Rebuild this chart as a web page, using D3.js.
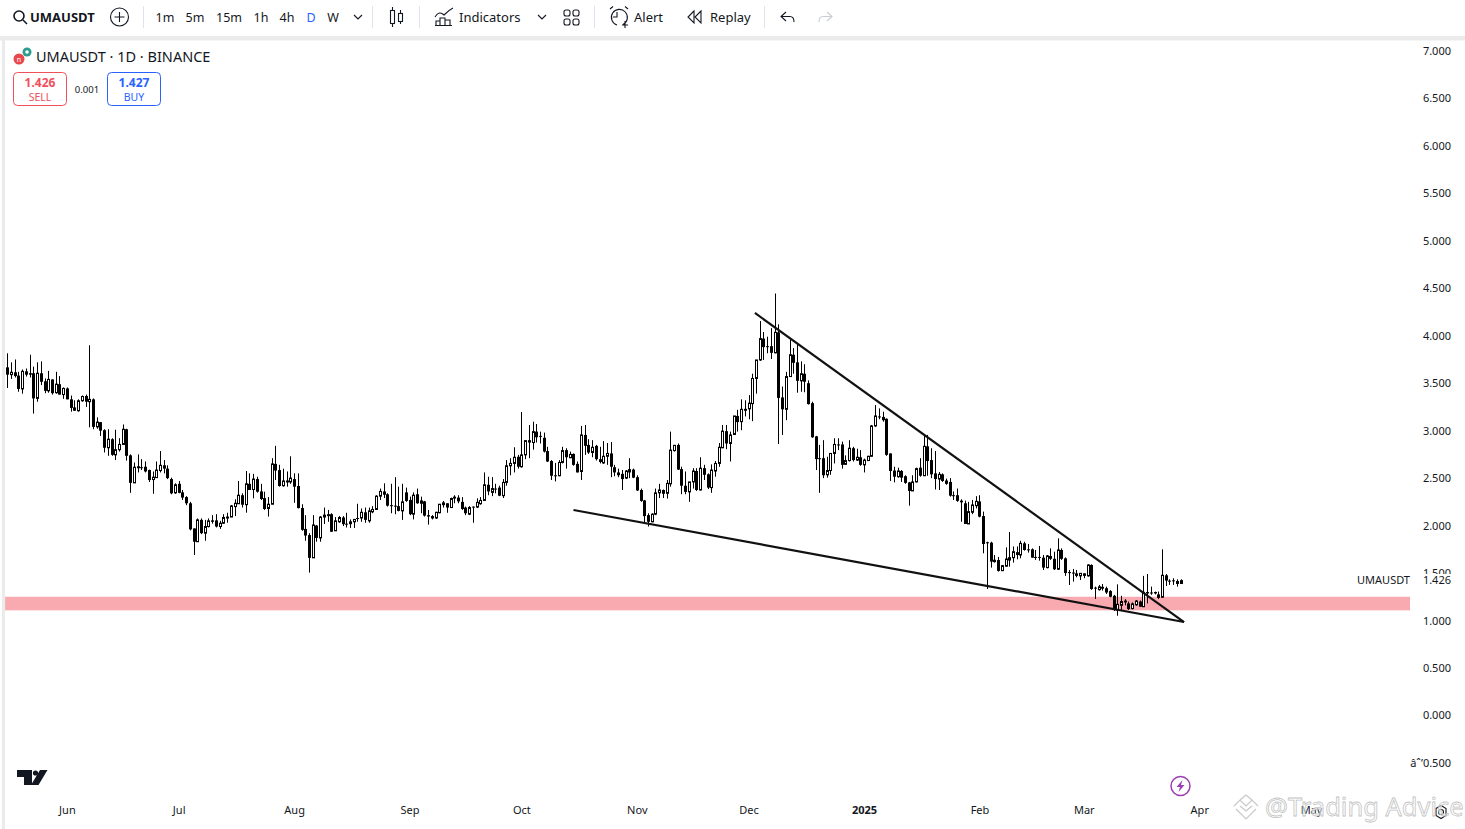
<!DOCTYPE html>
<html>
<head>
<title>UMAUSDT</title>
<script src="https://d3js.org/d3.v7.min.js"></script>
<style>
    html, body { margin: 0; padding: 0; background: #fff; overflow: hidden; }
    svg { display: block; }
    svg text { font-family: "Noto Sans", sans-serif; fill: #131722; }
</style>
</head>
<body>
<svg id="chart" width="1465" height="829"></svg>
<script>
// values, one entry per daily candle from 2024-05-16
const opens = [
  3.667,3.59,3.615,3.58,3.44,3.625,3.605,3.605,3.34,3.605,
  3.52,3.42,3.54,3.40,3.49,3.38,3.445,3.33,3.245,3.21,
  3.315,3.365,3.305,3.33,3.04,3.09,3.005,2.82,2.91,2.745,
  2.80,2.855,3.015,2.74,2.45,2.61,2.615,2.62,2.585,2.485,
  2.505,2.58,2.635,2.60,2.49,2.345,2.44,2.35,2.30,2.235,
  1.97,1.83,2.06,1.92,1.99,2.055,2.055,1.99,2.025,2.085,
  2.09,2.20,2.23,2.32,2.22,2.44,2.38,2.49,2.36,2.29,
  2.18,2.225,2.65,2.585,2.42,2.46,2.46,2.49,2.417,2.185,
  1.965,1.90,1.66,2.00,1.87,2.09,2.11,2.12,1.945,2.04,
  2.085,2.02,2.02,2.04,2.08,2.08,2.14,2.05,2.145,2.17,
  2.31,2.36,2.33,2.215,2.21,2.205,2.155,2.35,2.27,2.12,
  2.33,2.235,2.255,2.11,2.10,2.08,2.135,2.22,2.235,2.19,
  2.295,2.295,2.25,2.19,2.12,2.20,2.195,2.23,2.265,2.43,
  2.35,2.39,2.40,2.315,2.455,2.63,2.655,2.725,2.62,2.745,
  2.90,2.875,2.99,2.945,2.925,2.785,2.68,2.53,2.525,2.665,
  2.795,2.715,2.755,2.65,2.57,2.955,2.85,2.77,2.84,2.70,
  2.66,2.73,2.76,2.615,2.56,2.545,2.50,2.565,2.59,2.51,
  2.375,2.265,2.11,2.04,2.12,2.345,2.375,2.34,
  2.44,2.79,2.85,2.595,2.42,2.355,2.46,2.575,2.375,2.605,2.54,2.40,
  2.575,2.655,2.82,2.995,2.865,2.96,3.155,3.095,3.225,3.23,
  3.285,3.55,3.745,3.97,3.89,3.89,3.82,4.036,3.35,3.225,
  3.57,3.80,3.72,3.525,3.60,3.50,3.29,2.94,2.71,2.71,
  2.535,2.58,2.76,2.855,2.855,2.645,2.685,2.815,2.69,2.72,
  2.64,2.685,2.73,3.05,3.15,3.145,3.125,2.76,2.58,2.515,
  2.575,2.52,2.455,2.365,2.46,2.61,2.525,2.835,2.69,2.55,
  2.49,2.54,2.475,2.46,2.32,2.32,
  2.263,2.235,2.017,2.14,2.21,2.255,2.10,1.824,1.82,1.62,
  1.637,1.525,1.572,1.637,1.662,1.72,1.69,1.813,1.75,1.75,
  1.67,1.67,1.662,1.557,1.68,1.65,1.54,1.743,1.655,1.51,
  1.505,1.497,1.47,1.497,1.47,1.585,1.346,1.325,1.355,1.34,
  1.31,1.26,1.11,1.16,1.21,1.18,1.125,1.165,1.20,1.145,
  1.30,1.295,1.30,1.275,1.245,1.476,1.42,1.423,1.416,1.39
];
const highs = [
  3.815,3.72,3.75,3.62,3.645,3.655,3.80,3.675,3.72,3.73,
  3.55,3.63,3.54,3.62,3.575,3.455,3.455,3.37,3.32,3.33,
  3.37,3.38,3.90,3.34,3.14,3.09,3.015,3.015,2.92,3.01,
  2.92,3.065,3.02,2.75,2.665,2.75,2.70,2.675,2.59,2.57,
  2.675,2.785,2.69,2.635,2.505,2.445,2.47,2.375,2.31,2.25,
  1.97,2.075,2.075,2.06,2.075,2.11,2.12,2.05,2.12,2.135,
  2.217,2.277,2.47,2.34,2.575,2.55,2.545,2.515,2.44,2.357,
  2.30,2.71,2.84,2.64,2.60,2.57,2.73,2.55,2.55,2.225,
  2.11,1.92,2.11,2.006,2.10,2.19,2.165,2.13,2.09,2.10,
  2.10,2.135,2.065,2.065,2.23,2.18,2.19,2.19,2.205,2.32,
  2.39,2.445,2.34,2.44,2.51,2.41,2.44,2.40,2.305,2.35,
  2.39,2.305,2.26,2.165,2.11,2.145,2.225,2.26,2.235,2.295,
  2.32,2.32,2.30,2.20,2.205,2.20,2.287,2.30,2.56,2.515,
  2.51,2.44,2.42,2.49,2.69,2.71,2.825,2.745,3.197,2.90,
  3.06,3.095,3.07,2.99,2.98,2.83,2.69,2.66,2.69,2.83,
  2.815,2.78,2.76,2.675,3.05,3.06,2.91,2.90,2.85,2.83,
  2.89,2.87,2.88,2.64,2.60,2.585,2.585,2.71,2.60,2.53,
  2.39,2.27,2.13,2.13,2.39,2.44,2.38,2.48,
  2.99,2.85,2.865,2.62,2.57,2.46,2.605,2.605,2.72,2.64,2.55,2.645,
  2.68,2.87,3.06,3.06,2.99,3.155,3.22,3.33,3.32,3.375,
  3.60,3.745,4.155,4.04,3.99,4.08,4.445,4.12,3.465,3.62,
  3.97,3.87,3.92,3.73,3.70,3.53,3.305,2.945,2.85,2.90,
  2.725,2.76,2.92,2.92,2.885,2.74,2.90,2.83,2.81,2.795,
  2.705,2.735,3.06,3.27,3.235,3.20,3.13,2.76,2.62,2.61,
  2.585,2.53,2.46,2.53,2.61,2.71,2.955,2.955,2.815,2.785,
  2.565,2.55,2.495,2.50,2.36,2.39,
  2.277,2.263,2.25,2.27,2.31,2.32,2.147,1.83,1.83,1.69,
  1.67,1.585,1.77,1.933,1.78,1.78,1.84,1.83,1.806,1.76,
  1.743,1.785,1.69,1.69,1.76,1.725,1.866,1.76,1.665,1.532,
  1.543,1.532,1.50,1.497,1.592,1.592,1.357,1.375,1.385,1.357,
  1.32,1.27,1.381,1.26,1.225,1.20,1.19,1.215,1.21,1.47,
  1.49,1.357,1.305,1.305,1.75,1.49,1.434,1.445,1.434,1.434
];
const lows = [
  3.45,3.545,3.56,3.41,3.39,3.57,3.56,3.18,3.305,3.48,
  3.395,3.40,3.38,3.39,3.38,3.335,3.33,3.20,3.21,3.20,
  3.305,3.25,3.035,3.015,3.02,2.945,2.77,2.735,2.735,2.69,
  2.78,2.85,2.685,2.345,2.45,2.56,2.585,2.56,2.46,2.335,
  2.505,2.56,2.55,2.49,2.33,2.335,2.34,2.27,2.215,1.95,
  1.69,1.83,1.91,1.84,1.98,2.02,1.98,1.965,2.017,2.03,
  2.09,2.10,2.23,2.19,2.136,2.375,2.287,2.347,2.27,2.165,
  2.095,2.225,2.48,2.41,2.41,2.41,2.44,2.24,2.18,1.945,
  1.84,1.505,1.66,1.83,1.83,2.017,2.04,1.935,1.945,2.03,
  1.995,1.98,1.975,1.975,2.04,2.04,2.03,2.03,2.13,2.165,
  2.27,2.29,2.20,2.13,2.12,2.15,2.06,2.25,2.11,2.065,
  2.23,2.13,2.095,2.01,2.065,2.07,2.13,2.19,2.135,2.19,
  2.235,2.235,2.165,2.11,2.11,2.03,2.185,2.22,2.26,2.32,
  2.31,2.34,2.31,2.29,2.42,2.53,2.56,2.60,2.61,2.70,
  2.71,2.80,2.875,2.865,2.77,2.67,2.48,2.465,2.52,2.655,
  2.60,2.71,2.63,2.56,2.48,2.745,2.755,2.72,2.685,2.655,
  2.65,2.64,2.51,2.52,2.51,2.375,2.49,2.50,2.50,2.365,
  2.25,2.02,1.99,2.035,2.11,2.29,2.29,2.285,
  2.41,2.78,2.585,2.33,2.33,2.25,2.39,2.365,2.37,2.48,2.385,2.345,
  2.515,2.62,2.815,2.805,2.675,2.955,2.99,3.005,3.15,3.12,
  3.10,3.39,3.735,3.745,3.815,3.755,3.815,2.86,2.955,3.11,
  3.57,3.60,3.40,3.41,3.405,3.275,2.925,2.585,2.345,2.50,
  2.505,2.535,2.655,2.795,2.60,2.64,2.675,2.675,2.68,2.63,
  2.56,2.68,2.725,3.04,3.12,3.095,2.735,2.47,2.455,2.505,
  2.46,2.44,2.21,2.365,2.455,2.515,2.525,2.525,2.50,2.38,
  2.375,2.46,2.43,2.305,2.27,2.25,
  2.04,2.017,2.017,2.12,2.18,2.087,1.708,1.332,1.557,1.61,
  1.515,1.522,1.567,1.567,1.61,1.645,1.655,1.736,1.715,1.662,
  1.638,1.63,1.532,1.55,1.638,1.532,1.532,1.638,1.47,1.374,
  1.41,1.455,1.427,1.445,1.462,1.322,1.227,1.315,1.315,1.28,
  1.245,1.10,1.05,1.11,1.16,1.11,1.118,1.156,1.145,1.145,
  1.18,1.27,1.275,1.227,1.237,1.364,1.375,1.375,1.357,1.385
];
const closes = [
  3.59,3.615,3.575,3.44,3.625,3.59,3.59,3.34,3.605,3.515,
  3.42,3.54,3.395,3.49,3.38,3.445,3.33,3.24,3.21,3.315,
  3.36,3.305,3.33,3.04,3.09,3.00,2.82,2.91,2.745,2.80,
  2.855,3.015,2.735,2.45,2.615,2.62,2.61,2.57,2.48,2.51,
  2.585,2.635,2.60,2.50,2.34,2.43,2.345,2.295,2.235,1.96,
  1.83,2.06,1.92,1.99,2.05,2.04,1.99,2.025,2.085,2.09,
  2.207,2.235,2.32,2.22,2.44,2.375,2.49,2.357,2.28,2.175,
  2.225,2.65,2.58,2.417,2.47,2.47,2.50,2.41,2.185,1.955,
  1.895,1.66,2.006,1.87,2.09,2.11,2.115,1.935,2.05,2.085,
  2.015,2.01,2.04,2.065,2.07,2.14,2.06,2.155,2.17,2.31,
  2.36,2.325,2.21,2.205,2.205,2.155,2.25,2.26,2.12,2.32,
  2.235,2.26,2.105,2.095,2.075,2.14,2.225,2.24,2.19,2.285,
  2.30,2.255,2.175,2.13,2.19,2.195,2.245,2.265,2.43,2.36,
  2.39,2.385,2.315,2.455,2.63,2.655,2.72,2.62,2.745,2.895,
  2.875,2.99,2.93,2.94,2.78,2.675,2.525,2.525,2.665,2.79,
  2.72,2.75,2.64,2.56,2.955,2.84,2.77,2.825,2.70,2.67,
  2.73,2.76,2.62,2.56,2.53,2.49,2.575,2.59,2.505,2.37,
  2.26,2.10,2.04,2.12,2.345,2.375,2.335,2.445,
  2.795,2.845,2.59,2.42,2.355,2.46,2.575,2.375,2.605,2.535,2.40,2.585,
  2.655,2.825,2.995,2.865,2.955,3.155,3.09,3.225,3.225,3.29,
  3.55,3.745,3.97,3.88,3.88,3.82,4.036,3.345,3.225,3.57,
  3.80,3.715,3.525,3.60,3.515,3.28,2.93,2.70,2.705,2.53,
  2.58,2.76,2.855,2.85,2.64,2.685,2.815,2.69,2.72,2.64,
  2.69,2.73,3.05,3.155,3.14,3.11,2.745,2.575,2.515,2.575,
  2.505,2.45,2.365,2.46,2.60,2.525,2.835,2.68,2.54,2.49,
  2.54,2.47,2.44,2.315,2.315,2.26,
  2.245,2.017,2.147,2.217,2.255,2.094,1.806,1.82,1.62,1.635,
  1.522,1.578,1.648,1.662,1.725,1.69,1.813,1.743,1.745,1.662,
  1.662,1.662,1.557,1.68,1.65,1.54,1.743,1.65,1.50,1.505,
  1.497,1.47,1.497,1.47,1.585,1.332,1.34,1.355,1.335,1.295,
  1.25,1.11,1.17,1.20,1.19,1.12,1.175,1.205,1.145,1.297,
  1.285,1.29,1.285,1.238,1.476,1.42,1.413,1.416,1.385,1.42
];

const priceTicks = [-0.5,0,0.5,1,1.5,2,2.5,3,3.5,4,4.5,5,5.5,6,6.5,7];
const monthTicks = ["2024-06-01","2024-07-01","2024-08-01","2024-09-01","2024-10-01","2024-11-01","2024-12-01","2025-01-01","2025-02-01","2025-03-01","2025-04-01","2025-05-01"];
const firstDay = "2024-05-16";
const lastPrice = 1.426;

// the two drawn trend lines and the support zone, in date / price
const upperTrend = [["2024-12-02T17:00Z", 4.24], ["2025-03-27T22:00Z", 0.984]];
const lowerTrend = [["2024-10-15T00:00Z", 2.164], ["2025-03-27T22:00Z", 0.984]];
const zoneDates = ["2024-05-15T10:00Z", "2025-05-27T14:00Z"];
const zonePrices = [1.25, 1.107];

const toolbarLabels = [["1m",165],["5m",195],["15m",229],["1h",261],["4h",287],["D",311],["W",333]];

const svg = d3.select("#chart");
const W = 1465, H = 829;

const x = d3.scaleUtc()
    .domain([new Date(firstDay + "T00:00Z"), new Date("2025-05-01T00:00Z")])
    .range([7.3, 1311]);
const y = d3.scaleLinear().domain([1, 7]).range([620.5, 51]);

const candles = opens.map((o, i) => ({
    date: d3.utcDay.offset(new Date(firstDay + "T00:00Z"), i),
    o: o, h: highs[i], l: lows[i], c: closes[i]
}));

// chart frame
svg.append("rect").attr("width", W).attr("height", H).attr("fill", "#fff");
svg.append("rect").attr("x", 0).attr("y", 36).attr("width", W).attr("height", 4.5).attr("fill", "#ebebeb");
svg.append("rect").attr("x", 2).attr("y", 36).attr("width", 3).attr("height", H - 36).attr("fill", "#ebebeb");

// support zone
svg.append("rect")
    .attr("x", x(new Date(zoneDates[0])))
    .attr("y", y(zonePrices[0]))
    .attr("width", x(new Date(zoneDates[1])) - x(new Date(zoneDates[0])))
    .attr("height", y(zonePrices[1]) - y(zonePrices[0]))
    .attr("fill", "#f9a9b0");

// candles
const candle = svg.append("g").selectAll("g").data(candles).enter().append("g")
    .attr("transform", d => `translate(${Math.round(x(d.date))},0)`);
candle.append("line")
    .attr("x1", 0.5).attr("x2", 0.5)
    .attr("y1", d => y(d.h)).attr("y2", d => y(d.l))
    .attr("stroke", "#000").attr("stroke-width", 1);
candle.append("rect")
    .attr("x", d => d.c >= d.o ? -0.5 : -1)
    .attr("width", d => d.c >= d.o ? 2 : 3)
    .attr("y", d => y(Math.max(d.o, d.c)))
    .attr("height", d => Math.max(1, Math.abs(y(d.o) - y(d.c))))
    .attr("fill", d => d.c >= d.o ? "#fff" : "#000")
    .attr("stroke", d => d.c >= d.o ? "#000" : "none")
    .attr("stroke-width", 1);

// trend lines
const trend = d3.line().x(d => x(new Date(d[0]))).y(d => y(d[1]));
svg.append("g").selectAll("path").data([upperTrend, lowerTrend]).enter().append("path")
    .attr("d", trend).attr("fill", "none").attr("stroke", "#111").attr("stroke-width", 2.2);

// price axis
const fmt = d3.format(".3f");
const yAxis = svg.append("g").attr("transform", "translate(1451,0)")
    .call(d3.axisLeft(y).tickValues(priceTicks).tickSize(0).tickPadding(0)
        .tickFormat(d => fmt(d).replace("-", "\u2212")));
yAxis.select(".domain").remove();
yAxis.selectAll("text").attr("font-size", 11).style("font-family", '"Noto Sans", sans-serif').style("fill", "#131722");

// time axis
const xAxis = svg.append("g").attr("transform", "translate(0,806)")
    .call(d3.axisBottom(x).tickValues(monthTicks.map(d => new Date(d + "T00:00Z"))).tickSize(0).tickPadding(0)
        .tickFormat(d => d.getUTCMonth() === 0 ? d.getUTCFullYear() : d3.utcFormat("%b")(d)));
xAxis.select(".domain").remove();
xAxis.selectAll("text").attr("font-size", 11).style("font-family", '"Noto Sans", sans-serif').style("fill", "#131722")
    .attr("font-weight", d => d.getUTCMonth() === 0 ? 700 : 400);

// last price label, covers the 1.500 tick behind it
svg.append("rect").attr("x", 1352).attr("y", 574).attr("width", 104).attr("height", 14).attr("fill", "#fff");
svg.append("text").attr("x", 1410).attr("y", y(lastPrice)).attr("dy", "0.35em").attr("text-anchor", "end").attr("font-size", 11).text("UMAUSDT");
svg.append("text").attr("x", 1451).attr("y", y(lastPrice)).attr("dy", "0.35em").attr("text-anchor", "end").attr("font-size", 11).text(fmt(lastPrice));

// legend
const legend = svg.append("g");
legend.append("circle").attr("cx", 19).attr("cy", 59).attr("r", 5.5).attr("fill", "#e8474c");
legend.append("circle").attr("cx", 27).attr("cy", 52).attr("r", 4.5).attr("fill", "#2a9d8f");
legend.append("circle").attr("cx", 27).attr("cy", 52).attr("r", 1.8).attr("fill", "#fff");
legend.append("text").attr("x", 19).attr("y", 61.5).attr("text-anchor", "middle").attr("font-size", 7).style("fill", "#fff").text("n");
legend.append("text").attr("x", 36).attr("y", 62).attr("font-size", 14.5).text("UMAUSDT \u00b7 1D \u00b7 BINANCE");

[["SELL", 13, "#f0505c", "1.426"], ["BUY", 107, "#2962ff", "1.427"]].forEach(b => {
    legend.append("rect").attr("x", b[1] + 0.5).attr("y", 72.5).attr("width", 53).attr("height", 33).attr("rx", 4)
        .attr("fill", "#fff").attr("stroke", b[2]);
    legend.append("text").attr("x", b[1] + 27).attr("y", 87).attr("text-anchor", "middle").attr("font-size", 12).attr("font-weight", 700).style("fill", b[2]).text(b[3]);
    legend.append("text").attr("x", b[1] + 27).attr("y", 101).attr("text-anchor", "middle").attr("font-size", 10.5).style("fill", b[2]).text(b[0]);
});
legend.append("text").attr("x", 87).attr("y", 92.5).attr("text-anchor", "middle").attr("font-size", 9.5).text("0.001");

// toolbar
const bar = svg.append("g");
const ink = "#131722";
function stroke(sel) { return sel.attr("fill", "none").attr("stroke", ink).attr("stroke-width", 1.1); }
stroke(bar.append("circle").attr("cx", 19).attr("cy", 16).attr("r", 5)).attr("stroke-width", 1.6);
stroke(bar.append("path").attr("d", "M23 20L27 24")).attr("stroke-width", 1.6);
bar.append("text").attr("x", 30).attr("y", 22).attr("font-size", 13).attr("font-weight", 700).text("UMAUSDT");
stroke(bar.append("circle").attr("cx", 119.5).attr("cy", 17).attr("r", 9));
stroke(bar.append("path").attr("d", "M114.5 17H124.5M119.5 12V22"));
[143.5, 372.5, 419.5, 594.5, 764.5].forEach(v => {
    bar.append("line").attr("x1", v).attr("x2", v).attr("y1", 6).attr("y2", 28).attr("stroke", "#e0e3eb");
});
bar.selectAll("text.tf").data(toolbarLabels).enter().append("text").attr("class", "tf")
    .attr("x", d => d[1]).attr("y", 22).attr("text-anchor", "middle").attr("font-size", 12.5)
    .style("fill", d => d[0] === "D" ? "#2962ff" : ink).text(d => d[0]);
stroke(bar.append("path").attr("d", "M354 15L358 19L362 15"));
// candle type icon
stroke(bar.append("path").attr("d", "M392.5 7V10M392.5 24V27M400.5 10V13M400.5 21V24"));
stroke(bar.append("rect").attr("x", 390.5).attr("y", 10.5).attr("width", 4).attr("height", 13));
stroke(bar.append("rect").attr("x", 398.5).attr("y", 13.5).attr("width", 4).attr("height", 8));
// indicators
stroke(bar.append("path").attr("d", "M435 17C438 12 441 12 444 15C447 12 449 10 453 8M436 25V21H440V25M440 25V18H445V25M445 25V20H450V25M435 25.5H452"));
bar.append("text").attr("x", 459).attr("y", 22).attr("font-size", 13).text("Indicators");
stroke(bar.append("path").attr("d", "M538 15L542 19L546 15"));
[[564,10],[573,10],[564,19],[573,19]].forEach(p => {
    stroke(bar.append("rect").attr("x", p[0]).attr("y", p[1]).attr("width", 6).attr("height", 6).attr("rx", 2));
});
// alert
stroke(bar.append("path").attr("d", "M623 24.5A8 8 0 1 0 617 25M617 12V17H613M610 9L613 6.5M625 6.5L628 9M622 25H628M625 21V28"));
bar.append("text").attr("x", 634).attr("y", 22).attr("font-size", 13).text("Alert");
// replay
stroke(bar.append("path").attr("d", "M694 11L688 17L694 23ZM701 11L695 17L701 23Z"));
bar.append("text").attr("x", 710).attr("y", 22).attr("font-size", 13).text("Replay");
// undo / redo
stroke(bar.append("path").attr("d", "M786 12L781 16.5L786 21M781 16.5H790C793 16.5 794 19 794 22"));
stroke(bar.append("path").attr("d", "M827 12L832 16.5L827 21M832 16.5H823C820 16.5 819 19 819 22")).attr("stroke", "#c9ccd3");

// tradingview mark
svg.append("path").attr("fill", "#131722").attr("d", "M17 770H32V785H24V777H17ZM40 770H47.5L38.5 785H31Z");
svg.append("circle").attr("cx", 35.5).attr("cy", 773).attr("r", 2.6).attr("fill", "#131722");

// flash icon
svg.append("circle").attr("cx", 1180.5).attr("cy", 786).attr("r", 9.5).attr("fill", "#fff").attr("stroke", "#9c3fb5").attr("stroke-width", 1.5);
svg.append("path").attr("fill", "#9c3fb5").attr("d", "M1182.5 780L1176.5 787H1180L1178.5 792L1184.5 785H1181Z");

// settings hexagon
stroke(svg.append("path").attr("d", "M1436 808.5L1441 805.5L1446 808.5V815.5L1441 818.5L1436 815.5Z"));
stroke(svg.append("circle").attr("cx", 1441).attr("cy", 812).attr("r", 2.5));

// watermark
const mark = svg.append("g").attr("fill", "none").attr("stroke", "#c8c8c8").attr("stroke-width", 1.2);
mark.append("path").attr("d", "M1234 806L1240 800L1246 806L1252 800L1258 806M1240 800L1246 795L1252 800M1240 806L1246 811L1252 806M1236 809L1246 819L1256 809");
svg.append("text").attr("x", 1265).attr("y", 816).attr("font-size", 25.5)
    .style("fill", "rgba(255,255,255,0.55)").style("stroke", "#c4c4c4").style("stroke-width", 0.8).text("@Trading Advice");
</script>
</body>
</html>
